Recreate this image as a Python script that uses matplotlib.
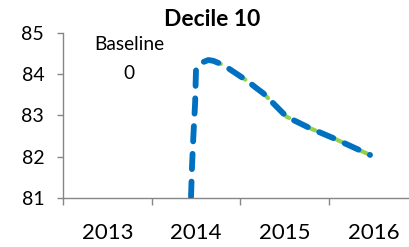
import matplotlib
matplotlib.use('Agg')
import matplotlib.pyplot as plt

# Decile 10: smoothed series (positions on the category axis, 0 = left edge of 2013)
years = ['2013', '2014', '2015', '2016']
x_pos = [1.443, 1.454, 1.469, 1.489, 1.499, 1.545, 1.638, 1.694, 1.807, 1.939,
         2.071, 2.184, 2.258, 2.52, 2.785, 3.047, 3.461]
values = [81.02, 81.75, 82.48, 83.30, 84.11, 84.27, 84.35, 84.33, 84.23, 84.04,
          83.85, 83.66, 83.54, 82.97, 82.69, 82.45, 82.04]
baseline_label = 'Baseline'
baseline_value = '0'

plt.rcParams['font.family'] = ['Lato', 'DejaVu Sans']
plt.rcParams['lines.scale_dashes'] = False
grey = '#868686'

fig = plt.figure(figsize=(4.1, 2.47), dpi=100)
ax = fig.add_axes([63 / 410, 49.3 / 247, 346 / 410, 164.4 / 247])

# green dashed line underneath, blue dashed on top (green peeks through some gaps)
green, = ax.plot(x_pos, values, color='#92D050', lw=3.0, dash_capstyle='round', zorder=2)
green.set_dashes([8, 13])
line, = ax.plot(x_pos, values, color='#0070C0', lw=4.2, dash_capstyle='round', zorder=3)
line.set_dashes([11, 9])

ax.set_xlim(0, 3.9)
ax.set_ylim(81, 85)
ax.set_yticks([81, 82, 83, 84, 85])

ax.set_xticks([0, 1, 2, 3])
ax.set_xticklabels([])
ax.set_xticks([0.5, 1.5, 2.5, 3.5], minor=True)
ax.set_xticklabels(years, minor=True, fontsize=16)
ax.tick_params(axis='x', which='major', length=5, width=1, color=grey, direction='out')
ax.tick_params(axis='x', which='minor', length=0, pad=18)
ax.tick_params(axis='y', length=4.5, width=1, color=grey, direction='out', labelsize=14, pad=9)

for s in ['top', 'right']:
    ax.spines[s].set_visible(False)
for s in ['left', 'bottom']:
    ax.spines[s].set_color(grey)
    ax.spines[s].set_linewidth(1)

ax.text(0.744, 84.72, baseline_label, ha='center', va='center', fontsize=13.8)
ax.text(0.744, 84.03, baseline_value, ha='center', va='center', fontsize=13.8)

fig.text(212 / 410, 1 - 19.7 / 247, 'Decile 10', ha='center', va='center',
         fontsize=16.5, fontweight='bold')

fig.savefig('out.png', dpi=100)
